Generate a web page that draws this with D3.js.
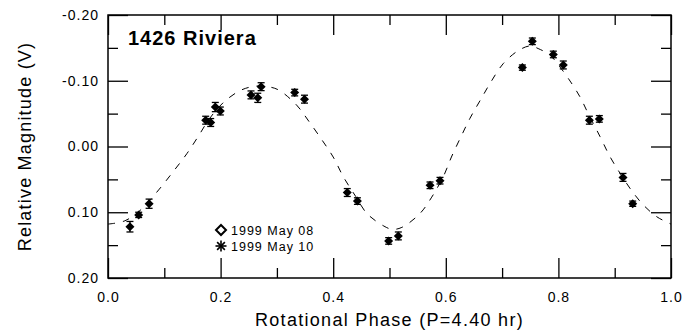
<!DOCTYPE html>
<html>
<head>
<meta charset="utf-8">
<script src="https://cdn.jsdelivr.net/npm/d3@7"></script>
<style>
  html, body { margin: 0; padding: 0; background: #fff; }
  svg { display: block; font-family: "Liberation Sans", Arial, sans-serif; }
</style>
</head>
<body>
<svg id="chart" width="698" height="330"></svg>
<script>
// Lightcurve of asteroid 1426 Riviera, folded on P = 4.40 h.

// Observed points: rotational phase, relative magnitude and its error.
const phase = [0.039, 0.0545, 0.073, 0.1735, 0.1824, 0.1906, 0.1995, 0.254, 0.266, 0.272,
               0.3316, 0.349, 0.425, 0.443, 0.4985, 0.5157, 0.572, 0.5897,
               0.736, 0.7537, 0.791, 0.8087, 0.855, 0.8727, 0.9147, 0.932];
const mag   = [0.122, 0.104, 0.087, -0.040, -0.0365, -0.060, -0.054, -0.0785, -0.074, -0.091,
               -0.082, -0.072, 0.070, 0.083, 0.1436, 0.136, 0.059, 0.052,
               -0.120, -0.160, -0.140, -0.124, -0.040, -0.042, 0.047, 0.087];
const magErr = [0.008, 0.004, 0.007, 0.006, 0.006, 0.007, 0.006, 0.006, 0.007, 0.006,
                0.005, 0.006, 0.006, 0.005, 0.005, 0.006, 0.005, 0.005,
                0.004, 0.005, 0.005, 0.006, 0.006, 0.005, 0.006, 0.004];

// Fourier fit, sampled along the phase.
const fitPhase = [0.00, 0.03, 0.06, 0.09, 0.116, 0.14, 0.16, 0.18, 0.205, 0.237, 0.265, 0.29,
                  0.305, 0.335, 0.357, 0.38, 0.40, 0.418, 0.44, 0.46, 0.49, 0.505, 0.522,
                  0.554, 0.575, 0.596, 0.61, 0.627, 0.643, 0.661, 0.68, 0.702, 0.729, 0.75,
                  0.764, 0.785, 0.80, 0.818, 0.838, 0.853, 0.874, 0.892, 0.912, 0.93, 0.951,
                  0.975, 1.00];
const fitMag   = [0.118, 0.113, 0.095, 0.066, 0.038, 0.011, -0.015, -0.042, -0.067, -0.086, -0.092, -0.090,
                  -0.085, -0.063, -0.038, -0.010, 0.016, 0.046, 0.076, 0.102, 0.121, 0.126, 0.123,
                  0.102, 0.077, 0.045, 0.016, -0.015, -0.043, -0.070, -0.098, -0.126, -0.146, -0.153,
                  -0.149, -0.139, -0.124, -0.103, -0.076, -0.050, -0.015, 0.016, 0.044, 0.067, 0.089,
                  0.107, 0.118];

// Axis ticks and labels.
const xMajor = [0, 0.2, 0.4, 0.6, 0.8, 1.0];
const xMinor = [0.1, 0.3, 0.5, 0.7, 0.9];
const xTickLabels = ["0.0", "0.2", "0.4", "0.6", "0.8", "1.0"];
const yMajor = [-0.20, -0.10, 0.00, 0.10, 0.20];
const yMinor = [-0.15, -0.05, 0.05, 0.15];
const yTickLabels = ["-0.20", "-0.10", "0.00", "0.10", "0.20"];

const legendLabels = ["1999 May 08", "1999 May 10"];
const titleText = "1426 Riviera";
const xTitle = "Rotational Phase (P=4.40 hr)";
const yTitle = "Relative Magnitude (V)";

const svg = d3.select("#chart");
const plotL = 108, plotR = 671, plotT = 15, plotB = 278;

const x = d3.scaleLinear().domain([0, 1]).range([plotL, plotR]);
const y = d3.scaleLinear().domain([-0.20, 0.20]).range([plotT, plotB]);

const MAJOR = 20, MINOR = 10;

function styleAxis(g) {
  g.select(".domain").remove();
  g.selectAll(".tick line").attr("stroke", "#000").attr("stroke-width", 1.3);
  g.selectAll(".tick text")
    .attr("fill", "#000")
    .style("font-size", "14px")
    .style("letter-spacing", "1px");
}

// Bottom axis (labelled)
svg.append("g").attr("transform", `translate(0,${plotB})`)
  .call(d3.axisBottom(x).tickValues(xMajor).tickSize(-MAJOR).tickPadding(14)
        .tickFormat((d, i) => xTickLabels[i]))
  .call(styleAxis);
svg.append("g").attr("transform", `translate(0,${plotB})`)
  .call(d3.axisBottom(x).tickValues(xMinor).tickSize(-MINOR).tickFormat(""))
  .call(styleAxis);

// Top axis
svg.append("g").attr("transform", `translate(0,${plotT})`)
  .call(d3.axisTop(x).tickValues(xMajor).tickSize(-MAJOR).tickFormat(""))
  .call(styleAxis);
svg.append("g").attr("transform", `translate(0,${plotT})`)
  .call(d3.axisTop(x).tickValues(xMinor).tickSize(-MINOR).tickFormat(""))
  .call(styleAxis);

// Left axis (labelled)
svg.append("g").attr("transform", `translate(${plotL},0)`)
  .call(d3.axisLeft(y).tickValues(yMajor).tickSize(-MAJOR).tickPadding(9)
        .tickFormat((d, i) => yTickLabels[i]))
  .call(styleAxis);
svg.append("g").attr("transform", `translate(${plotL},0)`)
  .call(d3.axisLeft(y).tickValues(yMinor).tickSize(-MINOR).tickFormat(""))
  .call(styleAxis);

// Right axis
svg.append("g").attr("transform", `translate(${plotR},0)`)
  .call(d3.axisRight(y).tickValues(yMajor).tickSize(-MAJOR).tickFormat(""))
  .call(styleAxis);
svg.append("g").attr("transform", `translate(${plotR},0)`)
  .call(d3.axisRight(y).tickValues(yMinor).tickSize(-MINOR).tickFormat(""))
  .call(styleAxis);

// Frame
svg.append("rect")
  .attr("x", plotL).attr("y", plotT)
  .attr("width", plotR - plotL).attr("height", plotB - plotT)
  .attr("fill", "none").attr("stroke", "#000").attr("stroke-width", 1.5);

// Title with a white box behind it
svg.append("rect").attr("x", 122).attr("y", 30).attr("width", 140).attr("height", 22).attr("fill", "#fff");
svg.append("text")
  .attr("x", 128).attr("y", 45)
  .style("font-size", "20px").style("font-weight", "bold").style("letter-spacing", "1px")
  .text(titleText);

// Dashed fit curve
const fit = fitPhase.map((p, i) => [p, fitMag[i]]);
svg.append("path")
  .datum(fit)
  .attr("fill", "none").attr("stroke", "#000").attr("stroke-width", 1)
  .attr("stroke-dasharray", "7,8")
  .attr("d", d3.line().x(d => x(d[0])).y(d => y(d[1])).curve(d3.curveCatmullRom));

// Error bars and points
const pts = phase.map((p, i) => ({ p, m: mag[i], e: magErr[i] }));
const eb = svg.append("g").attr("stroke", "#000").attr("stroke-width", 1.3);
pts.forEach(d => {
  const cx = x(d.p), y1 = y(d.m - d.e), y2 = y(d.m + d.e);
  eb.append("line").attr("x1", cx).attr("x2", cx).attr("y1", y1).attr("y2", y2);
  eb.append("line").attr("x1", cx - 3.5).attr("x2", cx + 3.5).attr("y1", y1).attr("y2", y1);
  eb.append("line").attr("x1", cx - 3.5).attr("x2", cx + 3.5).attr("y1", y2).attr("y2", y2);
});
const diamond = r => `M0,${-r}L${r},0L0,${r}L${-r},0Z`;
svg.append("g").selectAll("path").data(pts).join("path")
  .attr("transform", d => `translate(${x(d.p)},${y(d.m)})`)
  .attr("d", diamond(4.5))
  .attr("fill", "#000");

// Legend
const lg = svg.append("g");
lg.append("path").attr("transform", "translate(221,230)")
  .attr("d", diamond(5)).attr("fill", "#fff").attr("stroke", "#000").attr("stroke-width", 2);
const ast = lg.append("g").attr("transform", "translate(221,246)")
  .attr("stroke", "#000").attr("stroke-width", 1.6);
[0, 45, 90, 135].forEach(a => {
  const r = 5.5, t = a * Math.PI / 180;
  ast.append("line").attr("x1", -r * Math.cos(t)).attr("y1", -r * Math.sin(t))
    .attr("x2", r * Math.cos(t)).attr("y2", r * Math.sin(t));
});
legendLabels.forEach((t, i) => {
  lg.append("text").attr("x", 231).attr("y", 235 + i * 16)
    .style("font-size", "12.5px").style("letter-spacing", "1px").text(t);
});

// Axis titles
svg.append("text")
  .attr("x", (plotL + plotR) / 2).attr("y", 326)
  .attr("text-anchor", "middle")
  .style("font-size", "18px").style("letter-spacing", "1.3px")
  .text(xTitle);
svg.append("text")
  .attr("transform", `translate(31,${(plotT + plotB) / 2}) rotate(-90)`)
  .attr("text-anchor", "middle")
  .style("font-size", "18px").style("letter-spacing", "1.2px")
  .text(yTitle);
</script>
</body>
</html>
